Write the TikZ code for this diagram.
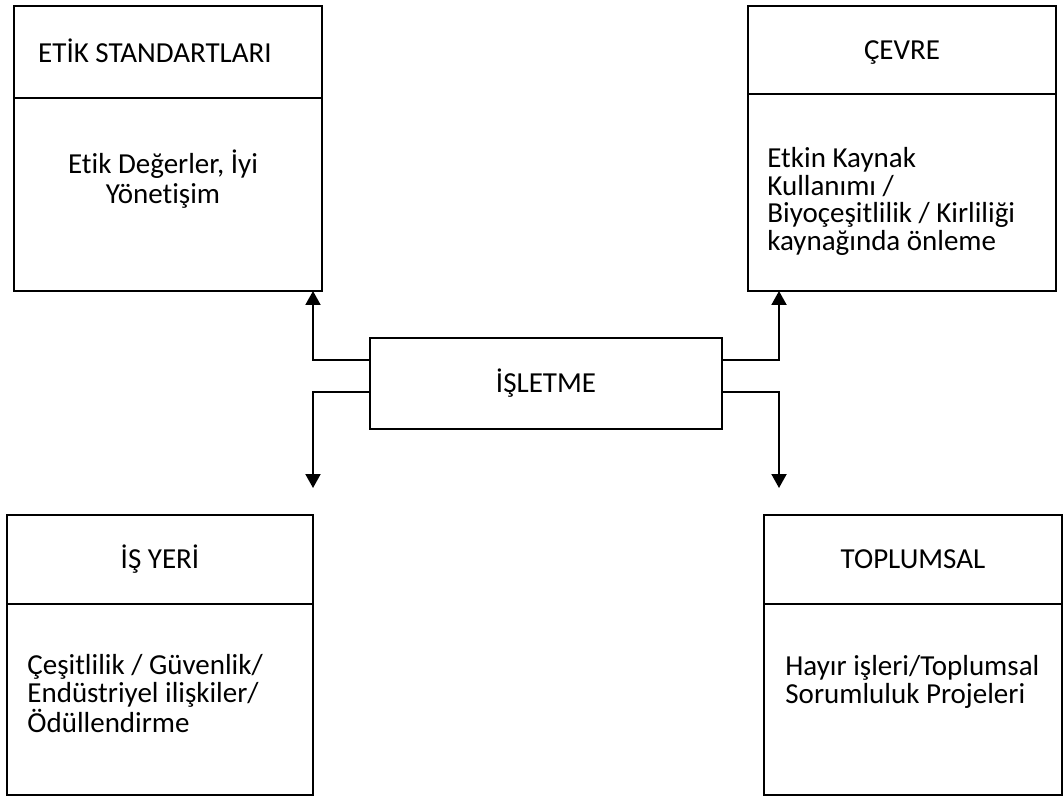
\documentclass[tikz,border=0pt]{standalone}
\usepackage{fontspec}
\setmainfont[Ligatures=NoCommon]{Carlito}
\usetikzlibrary{arrows.meta,positioning}

\begin{document}
\begin{tikzpicture}[x=0.5pt, y=-0.5pt,
    every node/.style={font=\fontsize{14.5}{13.75}\selectfont},
    kutu/.style={draw, line width=0.8pt, inner sep=0pt, outer sep=0pt, anchor=north west},
    baslik/.style={kutu, text height=9.3pt, text depth=0pt},
    yazi/.style={inner sep=0pt},
    ok/.style={line width=1pt, -{Triangle[width=7.5pt,length=7pt]}}]

    \useasboundingbox (0,0) rectangle (1063,801);

    % Draw box for ETIK STANDARTLARI
    \node[baslik, minimum width=154pt, minimum height=46pt] (etikbas) at (14,6) {};
    \node[kutu, minimum width=154pt, minimum height=96.5pt, below=0pt of etikbas] (etikgovde) {};
    \node[yazi, text height=9.3pt, text depth=0pt] (etikbaslik) at (155,53) {ETİK STANDARTLARI};
    \node[yazi, align=center, font=\fontsize{14.5}{15}\selectfont] (etikmetin) at (163,179) {Etik Değerler, İyi\\Yönetişim};

    % Draw box for CEVRE
    \node[baslik, minimum width=154pt, minimum height=44pt] (cevrebas) at (748,6) {ÇEVRE};
    \node[kutu, minimum width=154pt, minimum height=98.5pt, below=0pt of cevrebas] (cevregovde) {};
    \node[yazi, align=left, anchor=north west] (cevremetin) at (767,147) {Etkin Kaynak\\Kullanımı /\\Biyoçeşitlilik / Kirliliği\\kaynağında önleme};

    % Draw box for ISLETME
    \node[baslik, minimum width=176pt, minimum height=45.5pt] (isletme) at (370,338) {İŞLETME};

    % Draw box for IS YERI
    \node[baslik, minimum width=153pt, minimum height=44.5pt] (isyeribas) at (7,515) {İŞ YERİ};
    \node[kutu, minimum width=153pt, minimum height=95.5pt, below=0pt of isyeribas] (isyerigovde) {};
    \node[yazi, align=left, anchor=north west] (isyerimetin) at (27,654) {Çeşitlilik / Güvenlik/\\Endüstriyel ilişkiler/\\Ödüllendirme};

    % Draw box for TOPLUMSAL
    \node[baslik, minimum width=149pt, minimum height=44.5pt] (toplumbas) at (764,515) {TOPLUMSAL};
    \node[kutu, minimum width=149pt, minimum height=95.5pt, below=0pt of toplumbas] (toplumgovde) {};
    \node[yazi, align=left, anchor=north west] (toplummetin) at (785,655) {Hayır işleri/Toplumsal\\Sorumluluk Projeleri};

    % Draw arrows
    \coordinate (solalt) at (313,488);
    \coordinate (sagalt) at (779,488);
    \draw[ok] ([yshift=-11pt]isletme.north west) -| ([xshift=-4.5pt]etikgovde.south east);
    \draw[ok] ([yshift=-27pt]isletme.north west) -| (solalt);
    \draw[ok] ([yshift=-11pt]isletme.north east) -| ([xshift=15.5pt]cevregovde.south west);
    \draw[ok] ([yshift=-27pt]isletme.north east) -| (sagalt);
\end{tikzpicture}
\end{document}
